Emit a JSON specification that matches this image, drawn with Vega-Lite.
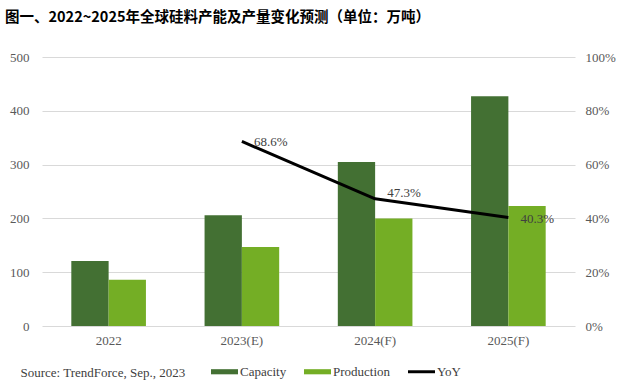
{
  "$schema": "https://vega.github.io/schema/vega-lite/v6.json",
  "width": 533,
  "height": 269,
  "autosize": "none",
  "padding": {"left": 42, "top": 57, "right": 45, "bottom": 58},
  "background": "white",
  "config": {
    "view": {"stroke": null},
    "font": "Liberation Serif",
    "axis": {"labelFont": "Liberation Serif", "titleFont": "Liberation Serif"},
    "legend": {"labelFont": "Liberation Serif"},
    "text": {"font": "Liberation Serif"}
  },
  "title": {
    "text": "图一、2022~2025年全球硅料产能及产量变化预测（单位：万吨）",
    "anchor": "start",
    "frame": "group",
    "font": "Noto Sans CJK SC",
    "fontSize": 14.5,
    "fontWeight": "bold",
    "color": "#000000",
    "dx": -37,
    "offset": 26
  },
  "datasets": {
    "bars": [
      {"year": "2022", "series": "Capacity", "value": 121},
      {"year": "2022", "series": "Production", "value": 86},
      {"year": "2023(E)", "series": "Capacity", "value": 206},
      {"year": "2023(E)", "series": "Production", "value": 147},
      {"year": "2024(F)", "series": "Capacity", "value": 305},
      {"year": "2024(F)", "series": "Production", "value": 200},
      {"year": "2025(F)", "series": "Capacity", "value": 427},
      {"year": "2025(F)", "series": "Production", "value": 223}
    ],
    "yoy": [
      {"year": "2023(E)", "yoy": 0.686},
      {"year": "2024(F)", "yoy": 0.473},
      {"year": "2025(F)", "yoy": 0.403}
    ]
  },
  "layer": [
    {
      "data": {"name": "bars"},
      "mark": {"type": "bar"},
      "encoding": {
        "x": {
          "field": "year", "type": "nominal",
          "scale": {"domain": ["2022", "2023(E)", "2024(F)", "2025(F)"], "paddingInner": 0.44, "paddingOuter": 0.22},
          "axis": {
            "title": "Source: TrendForce, Sep., 2023",
            "titleX": -22, "titleY": 46,
            "titleAnchor": "start", "titleAlign": "left", "titleBaseline": "middle",
            "titleFont": "Liberation Serif", "titleFontSize": 13, "titleFontWeight": "normal", "titleColor": "#404040",
            "labelAngle": 0, "labelFont": "Liberation Serif", "labelFontSize": 13, "labelColor": "#595959",
            "labelPadding": 8, "ticks": false, "domain": false
          }
        },
        "xOffset": {"field": "series", "type": "nominal", "sort": ["Capacity", "Production"], "scale": {"paddingInner": 0, "paddingOuter": 0}},
        "y": {
          "field": "value", "type": "quantitative",
          "scale": {"domain": [0, 500]},
          "axis": {
            "title": null, "values": [0, 100, 200, 300, 400, 500],
            "grid": true, "gridColor": "#d9d9d9", "ticks": false, "domain": false,
            "labelPadding": 13, "labelFont": "Liberation Serif", "labelFontSize": 13, "labelColor": "#595959"
          }
        },
        "color": {
          "field": "series", "type": "nominal",
          "scale": {"domain": ["Capacity", "Production", "YoY"], "range": ["#437033", "#74ae25", "#000000"]},
          "legend": {
            "orient": "none", "legendX": 169, "legendY": 301, "direction": "horizontal", "title": null,
            "labelFont": "Liberation Serif", "labelFontSize": 13, "labelColor": "#404040",
            "symbolSize": 729, "columnPadding": 17, "labelOffset": 2, "symbolStrokeWidth": 0,
            "encode": {
              "symbols": {
                "update": {
                  "shape": {"signal": "datum.value === 'YoY' ? 'M-1,-0.11H1V0.11H-1Z' : 'M-1,-0.19H1V0.19H-1Z'"},
                  "fill": {"scale": "color", "field": "value"},
                  "opacity": {"value": 1}
                }
              }
            }
          }
        }
      }
    },
    {
      "data": {"name": "yoy"},
      "layer": [
        {
          "mark": {"type": "line", "strokeWidth": 3, "color": "#000000", "strokeJoin": "round"},
          "encoding": {
            "x": {"field": "year", "type": "nominal"},
            "y": {
              "field": "yoy", "type": "quantitative",
              "scale": {"domain": [0, 1]},
              "axis": {
                "orient": "right", "title": null, "format": ".0%", "values": [0, 0.2, 0.4, 0.6, 0.8, 1],
                "grid": false, "ticks": false, "domain": false,
                "labelPadding": 10, "labelFont": "Liberation Serif", "labelFontSize": 13, "labelColor": "#595959"
              }
            },
            "color": {"datum": "YoY"}
          }
        },
        {
          "transform": [{"filter": "datum.year !== '2024(F)'"}],
          "mark": {"type": "text", "align": "left", "baseline": "middle", "dx": 12, "dy": 1, "font": "Liberation Serif", "fontSize": 13, "color": "#404040"},
          "encoding": {
            "x": {"field": "year", "type": "nominal"},
            "y": {"field": "yoy", "type": "quantitative"},
            "text": {"field": "yoy", "type": "quantitative", "format": ".1%"}
          }
        },
        {
          "transform": [{"filter": "datum.year === '2024(F)'"}],
          "mark": {"type": "text", "align": "left", "baseline": "middle", "dx": 12, "dy": -6, "font": "Liberation Serif", "fontSize": 13, "color": "#404040"},
          "encoding": {
            "x": {"field": "year", "type": "nominal"},
            "y": {"field": "yoy", "type": "quantitative"},
            "text": {"field": "yoy", "type": "quantitative", "format": ".1%"}
          }
        }
      ]
    }
  ],
  "resolve": {"scale": {"y": "independent"}}
}
